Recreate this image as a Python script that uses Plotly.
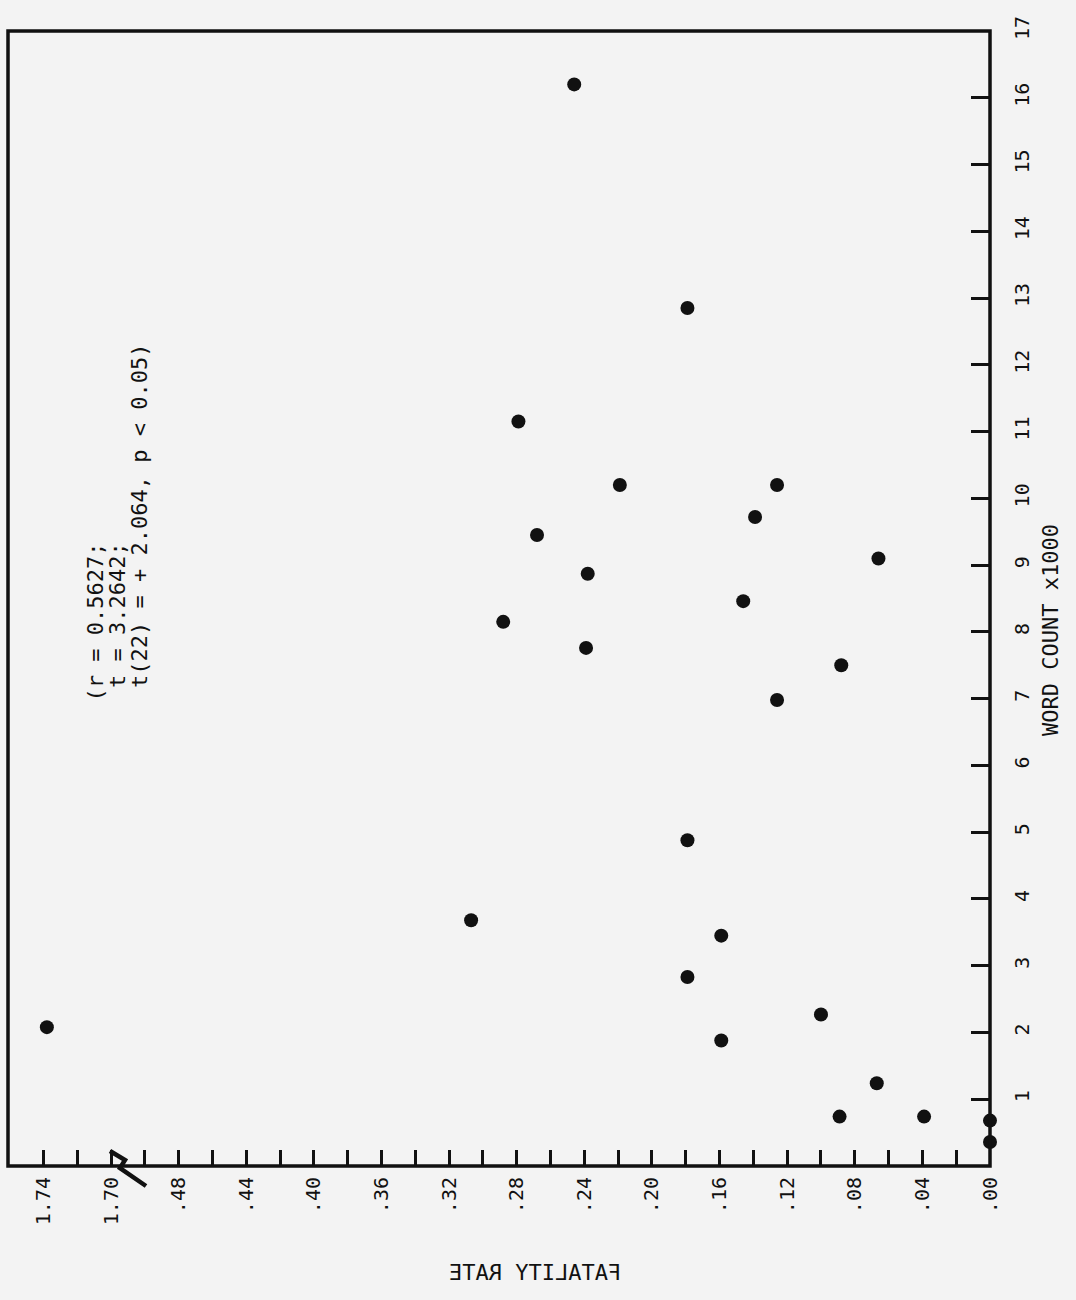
import plotly.graph_objects as go

# ---------------- data ----------------
fatality_rate = [0.246, 0.179, 0.279, 0.219, 0.126, 0.139, 0.268, 0.066, 0.238,
                 0.146, 0.288, 0.239, 0.088, 0.126, 0.179, 0.307, 0.159, 0.179,
                 0.100, 0.159, 0.067, 0.089, 0.039, 0.000, 0.000]
word_count = [16.2, 12.85, 11.15, 10.2, 10.2, 9.72, 9.45, 9.1, 8.87,
              8.46, 8.15, 7.76, 7.5, 6.98, 4.88, 3.68, 3.45, 2.83,
              2.27, 1.88, 1.24, 0.74, 0.74, 0.68, 0.36]
# the one case beyond the axis break
fatality_rate_high = [1.738]
word_count_high = [2.08]

rate_ticks = [0.00, 0.04, 0.08, 0.12, 0.16, 0.20, 0.24, 0.28, 0.32, 0.36, 0.40, 0.44, 0.48]
rate_labels = [".00", ".04", ".08", ".12", ".16", ".20", ".24", ".28", ".32", ".36", ".40", ".44", ".48"]
rate_minor = [0.02, 0.06, 0.10, 0.14, 0.18, 0.22, 0.26, 0.30, 0.34, 0.38, 0.42, 0.46, 0.50]
rate_ticks_high = [1.70, 1.74]
rate_labels_high = ["1.70", "1.74"]
rate_minor_high = [1.72]
count_ticks = list(range(1, 18))
count_labels = [str(v) for v in count_ticks]

stats_lines = ["(r = 0.5627;", "t = 3.2642;", "t(22) = + 2.064, p < 0.05)"]
x_title = "FATALITY RATE"
y_title = "WORD COUNT x1000"

# ---------------- layout geometry ----------------
W, H = 1076, 1300
PL, PR, PT, PB = 8, 990, 31, 1166
SPLIT = 128  # pixel where the broken axis segment meets the main one


def fx(xp):
    return (xp - PL) / (PR - PL)


def fy(yp):
    return (PB - yp) / (PB - PT)


FONT = "DejaVu Sans Mono"
INK = "#111111"
BG = "#f3f3f3"

fig = go.Figure()
fig.add_trace(go.Scatter(x=fatality_rate, y=word_count, mode="markers",
                         marker=dict(size=14, color=INK), cliponaxis=False,
                         xaxis="x", yaxis="y", showlegend=False))
fig.add_trace(go.Scatter(x=fatality_rate_high, y=word_count_high, mode="markers",
                         marker=dict(size=14, color=INK), cliponaxis=False,
                         xaxis="x2", yaxis="y", showlegend=False))

tick_common = dict(ticks="inside", ticklen=16, tickwidth=2.5, tickcolor=INK,
                   showgrid=False, zeroline=False, showline=False,
                   tickangle=-90, tickfont=dict(family=FONT, size=20, color=INK),
                   anchor="y", ticklabelstandoff=6)

d = fx(SPLIT)
fig.update_layout(
    width=W, height=H,
    margin=dict(l=PL, r=W - PR, t=PT, b=H - PB),
    paper_bgcolor=BG, plot_bgcolor=BG,
    xaxis=dict(domain=[d, 1], range=[0.510, 0.0], tickmode="array",
               tickvals=rate_ticks, ticktext=rate_labels,
               minor=dict(tickmode="array", tickvals=rate_minor, ticks="inside",
                          ticklen=16, tickwidth=2.5, tickcolor=INK, showgrid=False),
               **tick_common),
    xaxis2=dict(domain=[0, d], range=[1.761, 1.690], tickmode="array",
                tickvals=rate_ticks_high, ticktext=rate_labels_high,
                minor=dict(tickmode="array", tickvals=rate_minor_high, ticks="inside",
                           ticklen=16, tickwidth=2.5, tickcolor=INK, showgrid=False),
                **tick_common),
    yaxis=dict(range=[0, 17], side="right", anchor="x", tickmode="array",
               tickvals=count_ticks, ticktext=count_labels,
               ticks="inside", ticklen=19, tickwidth=2.5, tickcolor=INK,
               showgrid=False, zeroline=False, showline=False,
               tickangle=-90, tickfont=dict(family=FONT, size=20, color=INK),
               ticklabelstandoff=18),
)

# frame
fig.add_shape(type="rect", xref="paper", yref="paper", x0=0, x1=1, y0=0, y1=1,
              line=dict(color=INK, width=3.5), layer="above")
# axis-break mark (lightning-style zigzag across the bottom axis)
pts = [(110, 1151), (125, 1160), (120, 1168), (146, 1186)]
path = "M " + " L ".join(f"{fx(a):.5f},{fy(b):.5f}" for a, b in pts)
fig.add_shape(type="path", xref="paper", yref="paper", path=path,
              line=dict(color=INK, width=4.5), layer="above")

# statistics note
stat_pos = [(95, 704), (117, 690), (139, 690)]
for txt, (xp, yp) in zip(stats_lines, stat_pos):
    fig.add_annotation(text=txt, xref="paper", yref="paper", x=fx(xp), y=fy(yp),
                       xanchor="center", yanchor="bottom", textangle=-90,
                       showarrow=False, font=dict(family=FONT, size=22, color=INK))

# axis titles
fig.add_annotation(text=y_title, xref="paper", yref="paper", x=fx(1050), y=fy(630),
                   xanchor="center", yanchor="middle", textangle=-90, showarrow=False,
                   font=dict(family=FONT, size=22, color=INK))
fig.add_annotation(text=x_title, xref="paper", yref="paper", x=fx(535), y=fy(1272),
                   xanchor="center", yanchor="middle", showarrow=False,
                   font=dict(family=FONT, size=22, color=INK))

# page without default body margin; the printed x title appears mirrored on the scan
post_js = """
document.body.style.margin = '0';
document.body.style.background = '#f3f3f3';
document.querySelectorAll('.annotation-text').forEach(function(el){
  if (el.textContent === 'FATALITY RATE') {
    var b = el.getBBox(); var cx = b.x + b.width / 2;
    el.setAttribute('transform', 'translate(' + (2 * cx) + ',0) scale(-1,1)');
  }
});
"""

fig.write_html("out.html", post_script=post_js, config={"displayModeBar": False})
